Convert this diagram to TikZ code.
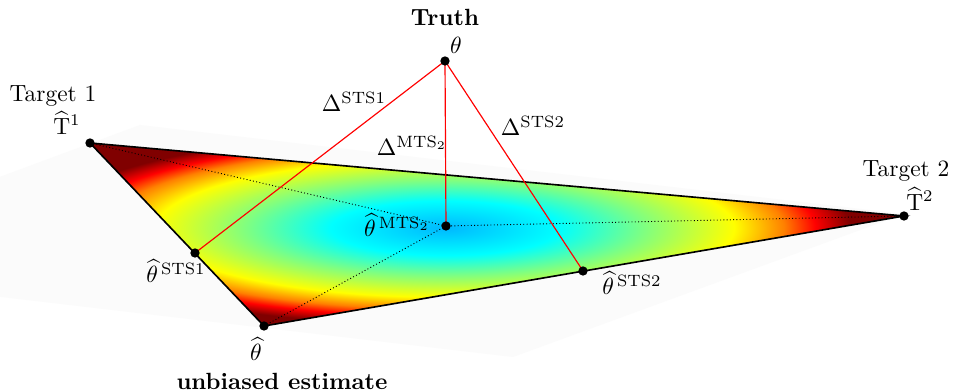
\documentclass[tikz,border=0pt]{standalone}
\usepackage{amsmath}
\definecolor{jetcore}{RGB}{0,184,255}
\definecolor{jetcyan}{RGB}{0,255,255}
\definecolor{jetgreen}{RGB}{128,255,128}
\definecolor{jetyellow}{RGB}{255,255,0}
\definecolor{jetorange}{RGB}{255,128,0}
\definecolor{jetred}{RGB}{255,0,0}
\definecolor{jetdarkred}{RGB}{128,0,0}
\definecolor{planegray}{RGB}{251,251,251}
\pgfdeclareradialshading{lossjet}{\pgfpointorigin}{%
  color(0bp)=(jetcore); color(5.5bp)=(jetcyan); color(9.6bp)=(jetgreen);
  color(13.9bp)=(jetyellow); color(16.3bp)=(jetorange); color(17.8bp)=(jetred);
  color(19.5bp)=(jetdarkred); color(50bp)=(jetdarkred)}
\tikzset{
  estimate/.style={circle, fill=black, inner sep=0pt, minimum size=1.4mm},
  simplex/.style={black, line width=0.7pt},
  bias/.style={red, line width=0.5pt},
  combo/.style={black, densely dotted, line width=0.4pt},
  lab/.style={inner sep=0pt}
}

\begin{document}
\begin{tikzpicture}[x=0.015cm,y=-0.015cm]
  % Canvas and faint base plane
  \useasboundingbox (0,0) rectangle (953,391);
  \fill[white] (0,0) rectangle (953,391);
  \begin{scope}
    \clip (0,0) rectangle (953,391);
    \fill[planegray] (-246,268) -- (140,125) -- (904,214) -- (513,357) -- cycle;
  \end{scope}

  % Points in the plane of estimates
  \coordinate (T1) at (90,143);
  \coordinate (T2) at (904,216);
  \coordinate (uhat) at (264,326);
  \coordinate (mts) at (446,226);
  \coordinate (sts1) at (195,253);
  \coordinate (sts2) at (583,271);
  \coordinate (truth) at (445,61);

  % Loss over the simplex
  \begin{scope}
    \clip (T1) -- (T2) -- (uhat) -- cycle;
    \shade[shading=lossjet] (445,228) ellipse [x radius=520, y radius=124];
  \end{scope}

  % Simplex edges and combinations
  \draw[simplex] (T1) -- (T2) -- (uhat) -- cycle;
  \draw[combo] (T1) -- (mts) -- (T2);
  \draw[combo] (uhat) -- (mts);

  % Distances to the truth
  \draw[bias] (truth) -- (sts1);
  \draw[bias] (truth) -- (mts);
  \draw[bias] (truth) -- (sts2);

  % Estimates
  \node[estimate] (truthdot) at (truth) {};
  \node[estimate] (T1dot) at (T1) {};
  \node[estimate] (T2dot) at (T2) {};
  \node[estimate] (uhatdot) at (uhat) {};
  \node[estimate] (mtsdot) at (mts) {};
  \node[estimate] (sts1dot) at (sts1) {};
  \node[estimate] (sts2dot) at (sts2) {};

  % Labels
  \node[lab,font=\bfseries] (truthlab) at (445,17) {Truth};
  \node[lab] (thetalab) at (456,45) {$\theta$};
  \node[lab] (t1name) at (53,96) {Target 1};
  \node[lab] (t1lab) at (67,123) {$\widehat{\mathrm{T}}^1$};
  \node[lab] (t2name) at (906,171) {Target 2};
  \node[lab] (t2lab) at (920,199) {$\widehat{\mathrm{T}}^2$};
  \node[lab] (d1lab) at (354,102) {$\Delta^{\mathrm{STS1}}$};
  \node[lab] (dmlab) at (412,146) {$\Delta^{\mathrm{MTS}_2}$};
  \node[lab] (d2lab) at (533,126) {$\Delta^{\mathrm{STS2}}$};
  \node[lab] (mtslab) at (397,225) {$\widehat{\theta}^{\,\mathrm{MTS}_2}$};
  \node[lab] (sts1lab) at (176,271) {$\widehat{\theta}^{\,\mathrm{STS1}}$};
  \node[lab] (sts2lab) at (632,283) {$\widehat{\theta}^{\,\mathrm{STS2}}$};
  \node[lab] (uhatlab) at (256,349) {$\widehat{\theta}$};
  \node[lab,font=\bfseries] (unbiasedlab) at (282,381) {unbiased estimate};
\end{tikzpicture}
\end{document}
